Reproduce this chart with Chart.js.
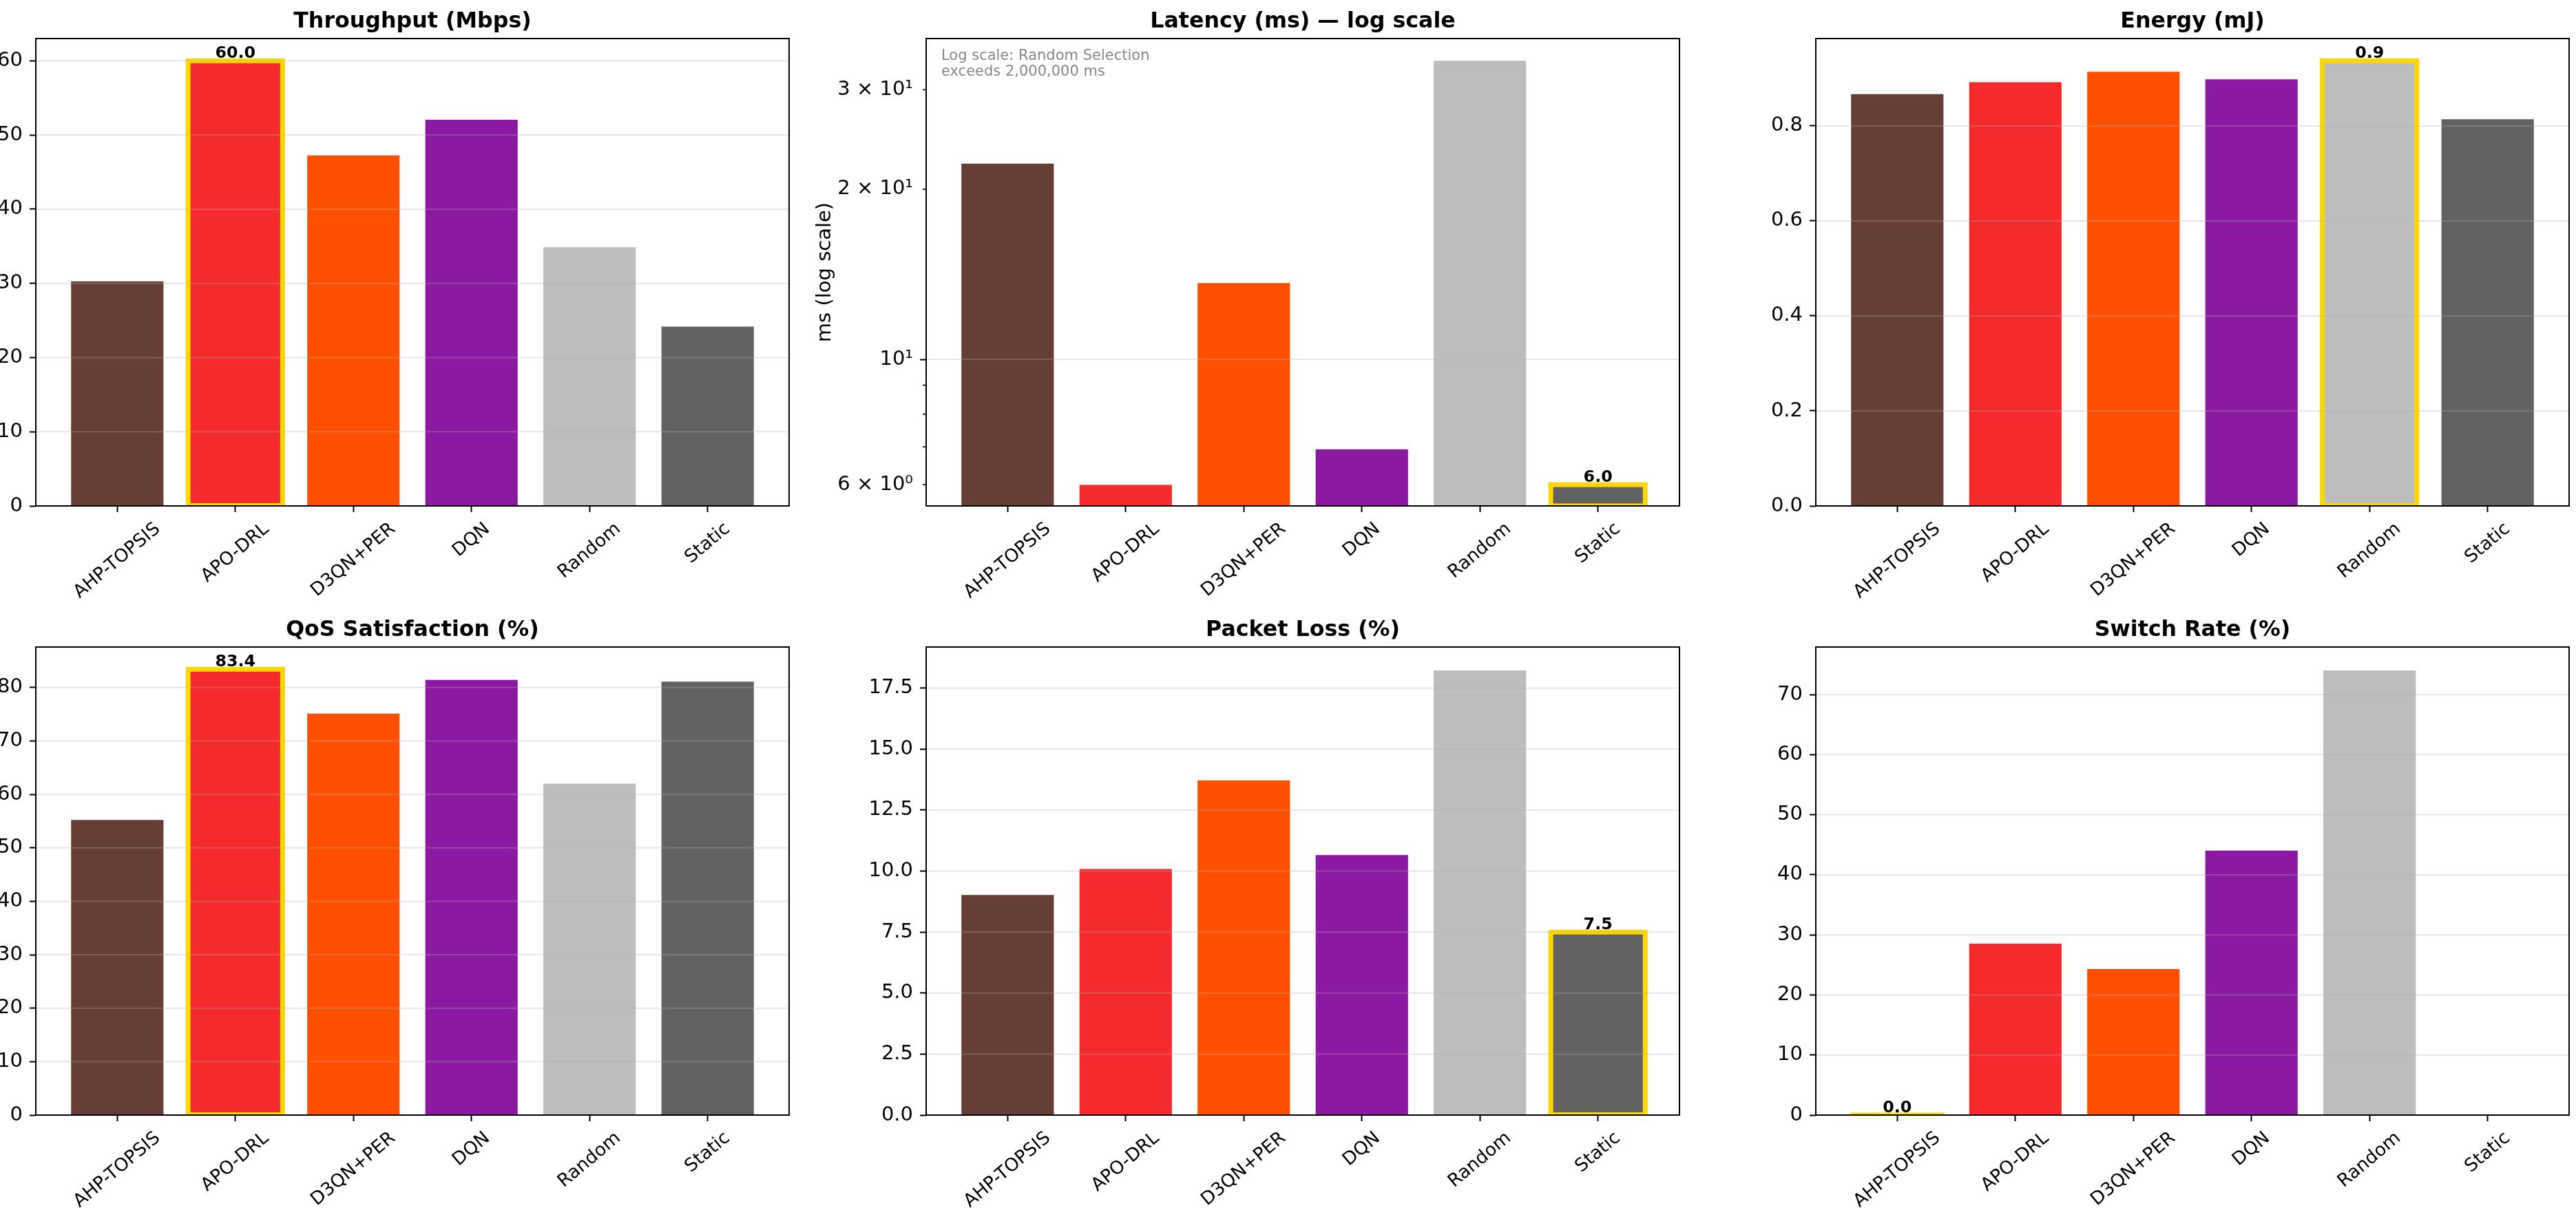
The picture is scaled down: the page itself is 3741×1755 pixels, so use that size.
<!DOCTYPE html>
<html>
<head>
<meta charset="utf-8">
<script src="https://cdn.jsdelivr.net/npm/chart.js@4.4.1/dist/chart.umd.min.js"></script>
<style>
  html, body { margin: 0; padding: 0; background: #fff; }
  body { width: 3741px; height: 1755px; position: relative; overflow: hidden; }
  canvas { position: absolute; }
</style>
</head>
<body>
<canvas id="c0"></canvas>
<canvas id="c1"></canvas>
<canvas id="c2"></canvas>
<canvas id="c3"></canvas>
<canvas id="c4"></canvas>
<canvas id="c5"></canvas>
<script>
// --- data ---
const methods   = ['AHP-TOPSIS', 'APO-DRL', 'D3QN+PER', 'DQN', 'Random', 'Static'];
const barColors = ['#653e35', '#f42a2c', '#ff4f00', '#8b19a2', '#bdbdbd', '#626262'];

const throughput = [30.4, 60.0, 47.4, 52.2, 35.0, 24.3];
const latency    = [22.3, 6.02, 13.7, 6.96, 33.9, 6.0];
const energy     = [0.869, 0.894, 0.916, 0.900, 0.937, 0.816];
const qos        = [55.4, 83.4, 75.3, 81.6, 62.2, 81.3];
const packetLoss = [9.06, 10.13, 13.76, 10.70, 18.27, 7.5];
const switchRate = [0.0, 28.7, 24.5, 44.2, 74.2, 0.0];

const throughputTicks  = [0, 10, 20, 30, 40, 50, 60];
const throughputLabels = ['0', '10', '20', '30', '40', '50', '60'];
const latencyTicks     = [6, 7, 8, 9, 10, 20, 30];
const latencyLabels    = ['6 × 10⁰', '', '', '', '10¹', '2 × 10¹', '3 × 10¹'];
const energyTicks      = [0, 0.2, 0.4, 0.6, 0.8];
const energyLabels     = ['0.0', '0.2', '0.4', '0.6', '0.8'];
const qosTicks         = [0, 10, 20, 30, 40, 50, 60, 70, 80];
const qosLabels        = ['0', '10', '20', '30', '40', '50', '60', '70', '80'];
const lossTicks        = [0, 2.5, 5, 7.5, 10, 12.5, 15, 17.5];
const lossLabels       = ['0.0', '2.5', '5.0', '7.5', '10.0', '12.5', '15.0', '17.5'];
const switchTicks      = [0, 10, 20, 30, 40, 50, 60, 70];
const switchLabels     = ['0', '10', '20', '30', '40', '50', '60', '70'];

const titles = ['Throughput (Mbps)', 'Latency (ms) \u2014 log scale', 'Energy (mJ)',
                'QoS Satisfaction (%)', 'Packet Loss (%)', 'Switch Rate (%)'];
const bestIndex = [1, 5, 4, 1, 5, 0];
const latencyNote = ['Log scale: Random Selection', 'exceeds 2,000,000 ms'];

// --- layout (pixels) ---
const colLeft = [52, 1345, 2637];
const rowTop  = [56, 940];
const rowH    = [679, 680];
const AXW = 1094, LP = 230, TP = 56, RP = 12, BP = [150, 140];

Chart.defaults.font.family = '"DejaVu Sans", sans-serif';
Chart.defaults.color = '#000';

const panels = [
  { values: throughput, ticks: throughputTicks, labels: throughputLabels },
  { values: latency, ticks: latencyTicks, labels: latencyLabels, log: true, grid: [10],
    yTitle: 'ms (log scale)', note: latencyNote },
  { values: energy, ticks: energyTicks, labels: energyLabels },
  { values: qos, ticks: qosTicks, labels: qosLabels },
  { values: packetLoss, ticks: lossTicks, labels: lossLabels },
  { values: switchRate, ticks: switchTicks, labels: switchLabels }
];

function decor(p) {
  return {
    id: 'decor',
    afterDatasetsDraw(chart) {
      const { ctx, chartArea: a, scales: { x, y } } = chart;
      const bars = chart.getDatasetMeta(0).data;
      const b = bars[p.best].getProps(['x', 'y', 'base', 'width'], true);

      ctx.save();
      ctx.beginPath();
      ctx.rect(a.left, a.top, a.right - a.left, a.bottom - a.top);
      ctx.clip();
      ctx.strokeStyle = '#ffd700';
      ctx.lineWidth = 7;
      ctx.strokeRect(b.x - b.width / 2, b.y, b.width, b.base - b.y);
      ctx.strokeStyle = 'rgba(176,176,176,0.3)';
      ctx.lineWidth = 2;
      (p.grid || p.ticks).forEach(v => {
        const py = y.getPixelForValue(v);
        ctx.beginPath(); ctx.moveTo(a.left, py); ctx.lineTo(a.right, py); ctx.stroke();
      });
      ctx.restore();

      ctx.save();
      // frame
      ctx.strokeStyle = '#000';
      ctx.lineWidth = 2;
      ctx.strokeRect(a.left, a.top, a.right - a.left, a.bottom - a.top);

      // minor ticks on the log axis
      if (p.log) {
        ctx.lineWidth = 1.6;
        p.ticks.forEach(v => {
          if (v === 10) return;
          const py = y.getPixelForValue(v);
          ctx.beginPath(); ctx.moveTo(a.left - 5, py); ctx.lineTo(a.left, py); ctx.stroke();
        });
      }

      // value on the highlighted bar
      ctx.fillStyle = '#000';
      ctx.font = 'bold 23.8px "DejaVu Sans"';
      ctx.textAlign = 'center';
      ctx.textBaseline = 'alphabetic';
      ctx.fillText(p.values[p.best].toFixed(1), b.x, b.y - 4);

      // title
      ctx.font = 'bold 31.7px "DejaVu Sans"';
      ctx.fillText(p.title, (a.left + a.right) / 2, a.top - 16);

      // rotated category labels, centred under each tick
      ctx.font = '26.4px "DejaVu Sans"';
      const ang = 40 * Math.PI / 180;
      methods.forEach((m, i) => {
        const w = ctx.measureText(m).width;
        const h = 26.4 * 1.17;
        const H = w * Math.sin(ang) + h * Math.cos(ang);
        ctx.save();
        ctx.translate(x.getPixelForValue(i), a.bottom + 18.4 + H / 2);
        ctx.rotate(-ang);
        ctx.textBaseline = 'middle';
        ctx.fillText(m, 0, 0);
        ctx.restore();
      });

      if (p.yTitle) {
        ctx.save();
        ctx.font = '29px "DejaVu Sans"';
        ctx.translate(a.left - 147, (a.top + a.bottom) / 2);
        ctx.rotate(-Math.PI / 2);
        ctx.textBaseline = 'middle';
        ctx.fillText(p.yTitle, 0, 0);
        ctx.restore();
      }

      if (p.note) {
        ctx.font = '21px "DejaVu Sans"';
        ctx.fillStyle = '#888';
        ctx.textAlign = 'left';
        ctx.fillText(p.note[0], a.left + 22, a.top + 31);
        ctx.fillText(p.note[1], a.left + 22, a.top + 54);
      }
      ctx.restore();
    }
  };
}

panels.forEach((p, k) => {
  const col = k % 3, row = Math.floor(k / 3);
  p.title = titles[k];
  p.best = bestIndex[k];

  const cv = document.getElementById('c' + k);
  const W = LP + AXW + RP, H = TP + rowH[row] + BP[row];
  cv.width = W; cv.height = H;
  cv.style.left = (colLeft[col] - LP) + 'px';
  cv.style.top = (rowTop[row] - TP) + 'px';
  cv.style.width = W + 'px'; cv.style.height = H + 'px';

  let yMin, yMax;
  if (p.log) {
    const lo = Math.log10(Math.min(...p.values)), hi = Math.log10(Math.max(...p.values));
    const pad = 0.05 * (hi - lo);
    yMin = Math.pow(10, lo - pad); yMax = Math.pow(10, hi + pad);
  } else {
    yMin = 0; yMax = Math.max(...p.values) * 1.05;
  }

  new Chart(cv, {
    type: 'bar',
    data: {
      datasets: [{
        data: p.values.map((v, i) => ({ x: i, y: v })),
        backgroundColor: barColors,
        borderColor: 'rgba(255,255,255,0.55)',
        borderWidth: 1.5,
        barPercentage: 0.8,
        categoryPercentage: 1
      }]
    },
    options: {
      responsive: false,
      animation: false,
      devicePixelRatio: 1,
      layout: { padding: { top: TP, right: RP, left: 0, bottom: 0 } },
      plugins: { legend: { display: false }, tooltip: { enabled: false }, title: { display: false } },
      scales: {
        x: {
          type: 'linear', min: -0.69, max: 5.69, offset: false, bounds: 'data',
          afterBuildTicks: s => { s.ticks = methods.map((m, i) => ({ value: i })); },
          afterFit: s => { s.height = BP[row]; },
          ticks: { display: false },
          grid: { drawOnChartArea: false, tickLength: 9, tickWidth: 2, tickColor: '#000', offset: false },
          border: { display: false }
        },
        y: {
          type: p.log ? 'logarithmic' : 'linear', min: yMin, max: yMax, bounds: 'data',
          afterBuildTicks: s => { s.ticks = p.ticks.map(v => ({ value: v })); },
          afterFit: s => { s.width = LP; },
          ticks: {
            callback: (v, i) => p.labels[i],
            color: '#000', font: { size: 29 }, padding: 10, autoSkip: false
          },
          grid: {
            drawOnChartArea: false, tickLength: 9, tickWidth: 2,
            tickColor: c => (!p.log || (c.tick && c.tick.value === 10)) ? '#000' : 'rgba(0,0,0,0)'
          },
          border: { display: false }
        }
      }
    },
    plugins: [decor(p)]
  });
});
</script>
</body>
</html>
